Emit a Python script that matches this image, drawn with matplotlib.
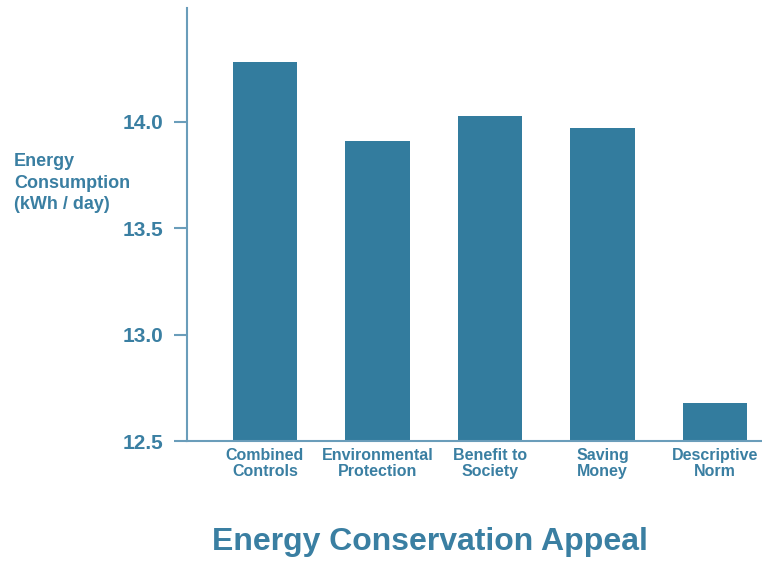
import numpy as np
import matplotlib.pyplot as plt

plt.rcParams['font.family'] = ['Liberation Sans', 'DejaVu Sans']
plt.rcParams['font.weight'] = 'bold'

categories = ['Combined\nControls', 'Environmental\nProtection', 'Benefit to\nSociety',
              'Saving\nMoney', 'Descriptive\nNorm']
consumption = [14.28, 13.91, 14.03, 13.97, 12.68]
yticks = [12.5, 13.0, 13.5, 14.0]

bar_color = '#337c9e'
text_color = '#3a7fa2'
axis_color = '#6a9dba'

fig = plt.figure(figsize=(7.62, 5.62), dpi=100)
ax = fig.add_axes([0.2454, 0.2153, 0.7546, 0.7705])

x = np.arange(len(categories))
ax.bar(x, np.array(consumption) - 12.5, bottom=12.5, width=0.57, color=bar_color)

ax.set_ylim(12.5, 14.536)
ax.set_xlim(-0.693, 4.418)

ax.set_yticks(yticks)
ax.set_yticklabels(['%.1f' % t for t in yticks], fontsize=15, color=text_color)
ax.set_xticks(x)
ax.set_xticklabels(categories, fontsize=11.5, color=text_color, linespacing=1.12)

ax.tick_params(axis='y', length=9.4, width=1.5, color=axis_color, pad=7.5)
ax.tick_params(axis='x', length=0, pad=5)

for side in ['top', 'right']:
    ax.spines[side].set_visible(False)
for side in ['left', 'bottom']:
    ax.spines[side].set_color(axis_color)
    ax.spines[side].set_linewidth(1.5)

fig.text(14 / 762, 1 - 183 / 562, 'Energy\nConsumption\n(kWh / day)', fontsize=13,
         color=text_color, ha='left', va='center', linespacing=1.35)

fig.text(430 / 762, 1 - 542 / 562, 'Energy Conservation Appeal', fontsize=23,
         color=text_color, ha='center', va='center')

fig.savefig('out.png', dpi=100)
